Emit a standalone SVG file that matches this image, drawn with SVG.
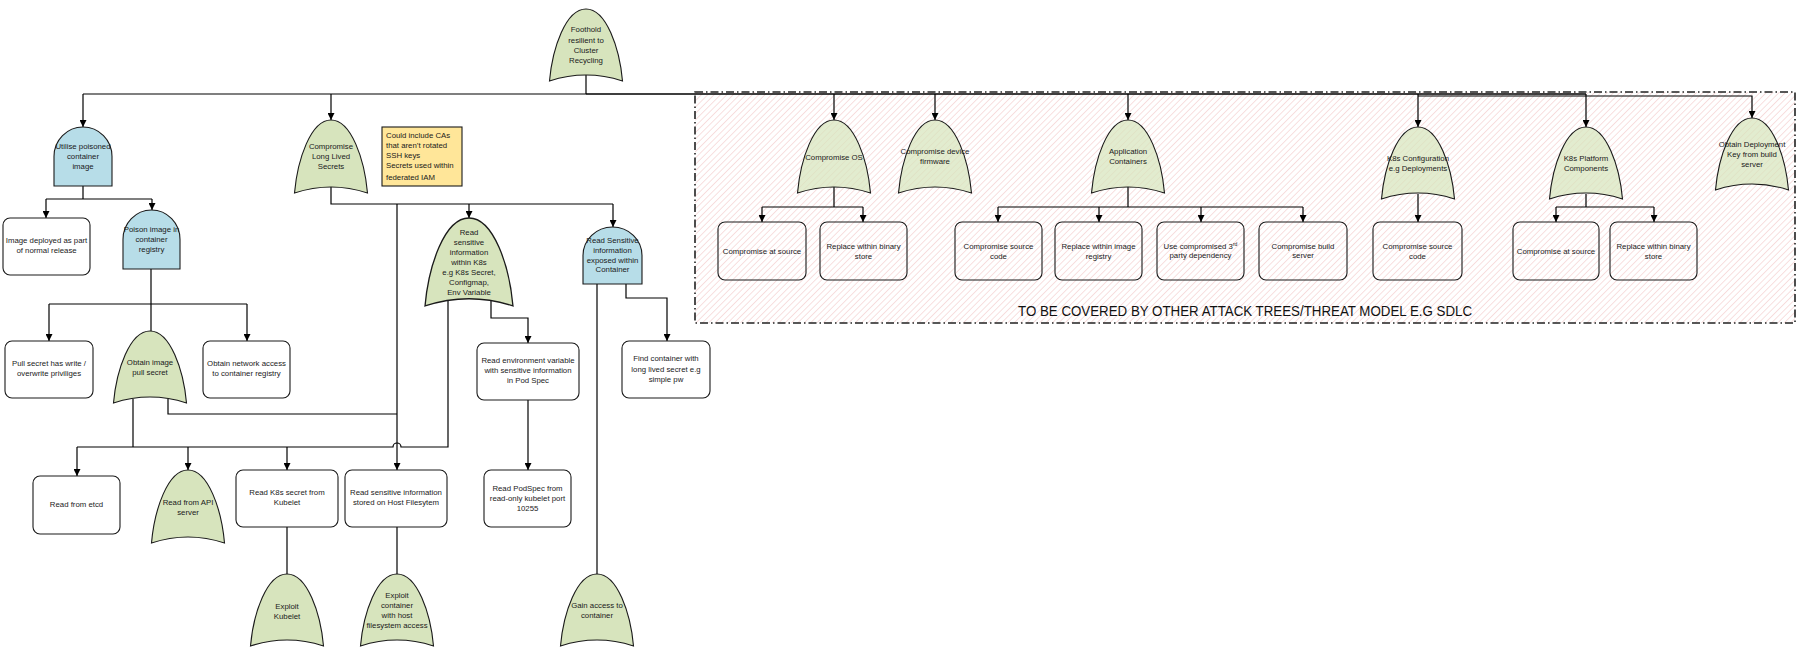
<svg xmlns="http://www.w3.org/2000/svg" width="1802" height="654" viewBox="0 0 1802 654">
<style>
text{font-family:"Liberation Sans",Arial,sans-serif;font-size:7.8px;fill:#1a1a1a;text-anchor:middle}
.note text,text.note{text-anchor:start}
.or{fill:#d7e4bd;stroke:#1a1a1a;stroke-width:1.1;vector-effect:non-scaling-stroke}
.hz{fill-opacity:0.72}
.and{fill:#b7dde8;stroke:#1a1a1a;stroke-width:1.1}
.box{fill:#fff;stroke:#1a1a1a;stroke-width:1.1}
.boxh{fill:none;stroke:#1a1a1a;stroke-width:1.1}
.c{fill:none;stroke:#000;stroke-width:1.2}
.a{marker-end:url(#arr)}
.big{font-size:14px;fill:#111}
</style>
<defs>
<marker id="arr" viewBox="0 0 8 8" refX="8" refY="4" markerWidth="7" markerHeight="7" markerUnits="userSpaceOnUse" orient="auto">
<path d="M0,0 L8,4 L0,8 Z" fill="#000"/>
</marker>
<pattern id="hatch" width="4.5" height="4.5" patternUnits="userSpaceOnUse" patternTransform="rotate(45)">
<line x1="0" y1="0" x2="0" y2="4.5" stroke="#f2c6c6" stroke-width="1.1"/>
</pattern>
<path id="orGate" d="M0,0 C20.4,0 33.6,40 36.5,73 Q0,61 -36.5,73 C-33.6,40 -20.4,0 0,0 Z"/>
<path id="andGate" d="M-29,58 V29 A29,29 0 0 1 29,29 V58 Z"/>
</defs>

<!-- excluded region -->
<g id="out-of-scope">
<rect x="695" y="92" width="1100" height="231" fill="#fff"/>
<rect x="695" y="92" width="1100" height="231" fill="url(#hatch)" stroke="#222" stroke-width="1.6" stroke-dasharray="8 3 1.5 3"/>
<text class="big" x="1245" y="316" textLength="454" lengthAdjust="spacingAndGlyphs">TO BE COVERED BY OTHER ATTACK TREES/THREAT MODEL E.G SDLC</text>
</g>

<g id="connectors">
<path class="c" d="M586,75 V94"/>
<path class="c" d="M83,94 H1586"/>
<path class="c" d="M586,94 H1586" stroke-width="2.4"/>
<path class="c a" d="M1418,96 H1752 V118"/>
<path class="c a" d="M83,94 V127"/>
<path class="c a" d="M331,94 V120"/>
<path class="c a" d="M834,94 V120"/>
<path class="c a" d="M935,94 V120"/>
<path class="c a" d="M1128,94 V120"/>
<path class="c a" d="M1418,94 V127"/>
<path class="c a" d="M1586,94 V127"/>
<!-- utilise -->
<path class="c" d="M83,186 V199 M46,199 H152"/>
<path class="c a" d="M46,199 V218"/>
<path class="c a" d="M152,199 V210"/>
<!-- poison -->
<path class="c" d="M151,269 V331"/>
<path class="c" d="M49,304 H247"/>
<path class="c a" d="M49,304 V341"/>
<path class="c a" d="M247,304 V341"/>
<!-- long lived -->
<path class="c" d="M331,187 V204 H613"/>
<path class="c a" d="M469,204 V218"/>
<path class="c a" d="M613,204 V227"/>
<path class="c a" d="M397,204 V470"/>
<!-- k8s within -->
<path class="c" d="M448,301 V447 H401 A4,4 0 0 0 393,447 H77"/>
<path class="c a" d="M491,301 V318 H528 V343"/>
<!-- obtain image pull secret -->
<path class="c" d="M133,399 V447"/>
<path class="c" d="M168,399 V414 H397"/>
<path class="c a" d="M77,447 V476"/>
<path class="c a" d="M188,447 V470"/>
<path class="c a" d="M287,447 V470"/>
<!-- env var -->
<path class="c a" d="M528,400 V470"/>
<path class="c" d="M287,527 V574"/>
<path class="c" d="M397,527 V574"/>
<!-- container -->
<path class="c" d="M597,284 V574"/>
<path class="c a" d="M626,284 V298 H667 V341"/>
<!-- right side -->
<path class="c" d="M834,187 V207 M762,207 H863"/>
<path class="c a" d="M762,207 V222"/>
<path class="c a" d="M863,207 V222"/>
<path class="c" d="M1128,187 V207 M998,207 H1303"/>
<path class="c a" d="M998,207 V222"/>
<path class="c a" d="M1099,207 V222"/>
<path class="c a" d="M1201,207 V222"/>
<path class="c a" d="M1303,207 V222"/>
<path class="c a" d="M1418,194 V222"/>
<path class="c" d="M1586,194 V207 M1556,207 H1654"/>
<path class="c a" d="M1556,207 V222"/>
<path class="c a" d="M1654,207 V222"/>
</g>

<g id="foothold"><use href="#orGate" class="or" transform="translate(586,9) scale(1,0.986)"/>
<text><tspan x="586" y="32">Foothold</tspan><tspan x="586" y="42.5">resilient to</tspan><tspan x="586" y="53">Cluster</tspan><tspan x="586" y="63">Recycling</tspan></text></g>

<g id="utilise-poisoned-image"><use href="#andGate" class="and" transform="translate(83,127) scale(1,1.017)"/>
<text><tspan x="83" y="149">Utilise poisoned</tspan><tspan x="83" y="159">container</tspan><tspan x="83" y="169">image</tspan></text></g>

<g id="compromise-long-lived-secrets"><use href="#orGate" class="or" transform="translate(331,120)"/>
<text><tspan x="331" y="149">Compromise</tspan><tspan x="331" y="159">Long Lived</tspan><tspan x="331" y="169">Secrets</tspan></text></g>

<g id="note" class="note"><rect x="382" y="127" width="80" height="59" fill="#ffe699" stroke="#1a1a1a" stroke-width="1.1"/>
<text><tspan x="386" y="138">Could include CAs</tspan><tspan x="386" y="148">that aren’t rotated</tspan><tspan x="386" y="158">SSH keys</tspan><tspan x="386" y="168">Secrets used within</tspan><tspan x="386" y="180">federated IAM</tspan></text></g>

<g id="image-deployed"><rect class="box" x="3" y="218" width="87" height="57" rx="7"/>
<text><tspan x="46.5" y="243">Image deployed as part</tspan><tspan x="46.5" y="253">of normal release</tspan></text></g>

<g id="poison-image"><use href="#andGate" class="and" transform="translate(151.5,210) scale(0.983,1.017)"/>
<text><tspan x="151.5" y="232">Poison image in</tspan><tspan x="151.5" y="242">container</tspan><tspan x="151.5" y="252">registry</tspan></text></g>

<g id="pull-secret-write"><rect class="box" x="5" y="341" width="88" height="57" rx="7"/>
<text><tspan x="49" y="366">Pull secret has write /</tspan><tspan x="49" y="376">overwrite priviliges</tspan></text></g>

<g id="obtain-pull-secret"><use href="#orGate" class="or" transform="translate(150,331) scale(1,0.986)"/>
<text><tspan x="150" y="365">Obtain image</tspan><tspan x="150" y="375">pull secret</tspan></text></g>

<g id="obtain-network-access"><rect class="box" x="203" y="341" width="87" height="57" rx="7"/>
<text><tspan x="246.5" y="366">Obtain network access</tspan><tspan x="246.5" y="376">to container registry</tspan></text></g>

<g id="read-k8s-info"><use href="#orGate" class="or" transform="translate(469,218) scale(1.205)"/>
<text><tspan x="469" y="235">Read</tspan><tspan x="469" y="245">sensitive</tspan><tspan x="469" y="255">information</tspan><tspan x="469" y="265">within K8s</tspan><tspan x="469" y="275">e.g K8s Secret,</tspan><tspan x="469" y="285">Configmap,</tspan><tspan x="469" y="295">Env Variable</tspan></text></g>

<g id="read-container-info"><use href="#andGate" class="and" transform="translate(612.5,227) scale(1.017,0.983)"/>
<text><tspan x="612.5" y="243">Read Sensitive</tspan><tspan x="612.5" y="253">information</tspan><tspan x="612.5" y="263">exposed within</tspan><tspan x="612.5" y="272">Container</tspan></text></g>

<g id="read-env-var"><rect class="box" x="477" y="343" width="102" height="57" rx="7"/>
<text><tspan x="528" y="363">Read environment variable</tspan><tspan x="528" y="373">with sensitive information</tspan><tspan x="528" y="383">in Pod Spec</tspan></text></g>

<g id="find-container"><rect class="box" x="622" y="341" width="88" height="57" rx="7"/>
<text><tspan x="666" y="361">Find container with</tspan><tspan x="666" y="371.5">long lived secret e.g</tspan><tspan x="666" y="382">simple pw</tspan></text></g>

<g id="read-etcd"><rect class="box" x="33" y="476" width="87" height="58" rx="7"/>
<text x="76.5" y="507">Read from etcd</text></g>

<g id="read-api-server"><use href="#orGate" class="or" transform="translate(188,470)"/>
<text><tspan x="188" y="505">Read from API</tspan><tspan x="188" y="515">server</tspan></text></g>

<g id="read-kubelet-secret"><rect class="box" x="236" y="470" width="102" height="57" rx="7"/>
<text><tspan x="287" y="495">Read K8s secret from</tspan><tspan x="287" y="505">Kubelet</tspan></text></g>

<g id="read-host-fs"><rect class="box" x="345" y="470" width="102" height="57" rx="7"/>
<text><tspan x="396" y="495">Read sensitive information</tspan><tspan x="396" y="505">stored on Host Filesytem</tspan></text></g>

<g id="read-podspec"><rect class="box" x="484" y="470" width="87" height="57" rx="7"/>
<text><tspan x="527.5" y="491">Read PodSpec from</tspan><tspan x="527.5" y="501">read-only kubelet port</tspan><tspan x="527.5" y="511">10255</tspan></text></g>

<g id="exploit-kubelet"><use href="#orGate" class="or" transform="translate(287,574) scale(1,0.986)"/>
<text><tspan x="287" y="609">Exploit</tspan><tspan x="287" y="619">Kubelet</tspan></text></g>

<g id="exploit-container-host"><use href="#orGate" class="or" transform="translate(397,574) scale(1,0.986)"/>
<text><tspan x="397" y="598">Exploit</tspan><tspan x="397" y="608">container</tspan><tspan x="397" y="618">with host</tspan><tspan x="397" y="628">filesystem access</tspan></text></g>

<g id="gain-container-access"><use href="#orGate" class="or" transform="translate(597,574) scale(1,0.986)"/>
<text><tspan x="597" y="608">Gain access to</tspan><tspan x="597" y="618">container</tspan></text></g>

<g id="compromise-os"><use href="#orGate" class="or hz" transform="translate(834,120)"/>
<text x="834" y="160">Compromise OS</text></g>

<g id="compromise-firmware"><use href="#orGate" class="or hz" transform="translate(935,120)"/>
<text><tspan x="935" y="154">Compromise device</tspan><tspan x="935" y="164">firmware</tspan></text></g>

<g id="application-containers"><use href="#orGate" class="or hz" transform="translate(1128,120)"/>
<text><tspan x="1128" y="154">Application</tspan><tspan x="1128" y="164">Containers</tspan></text></g>

<g id="k8s-configuration"><use href="#orGate" class="or hz" transform="translate(1418,127) scale(1,0.986)"/>
<text><tspan x="1418" y="161">K8s Configuration</tspan><tspan x="1418" y="171">e.g Deployments</tspan></text></g>

<g id="k8s-platform"><use href="#orGate" class="or hz" transform="translate(1586,127) scale(1,0.986)"/>
<text><tspan x="1586" y="161">K8s Platform</tspan><tspan x="1586" y="171">Components</tspan></text></g>

<g id="obtain-deployment-key"><use href="#orGate" class="or hz" transform="translate(1752,118) scale(1,0.986)"/>
<text><tspan x="1752" y="147">Obtain Deployment</tspan><tspan x="1752" y="157">Key from build</tspan><tspan x="1752" y="167">server</tspan></text></g>

<g id="os-compromise-source"><rect class="boxh" x="718" y="222" width="88" height="58" rx="7"/>
<text x="762" y="254">Compromise at source</text></g>

<g id="os-replace-binary"><rect class="boxh" x="820" y="222" width="87" height="58" rx="7"/>
<text><tspan x="863.5" y="249">Replace within binary</tspan><tspan x="863.5" y="259">store</tspan></text></g>

<g id="app-compromise-source"><rect class="boxh" x="955" y="222" width="87" height="58" rx="7"/>
<text><tspan x="998.5" y="249">Compromise source</tspan><tspan x="998.5" y="259">code</tspan></text></g>

<g id="app-replace-registry"><rect class="boxh" x="1055" y="222" width="87" height="58" rx="7"/>
<text><tspan x="1098.5" y="249">Replace within image</tspan><tspan x="1098.5" y="259">registry</tspan></text></g>

<g id="app-third-party"><rect class="boxh" x="1157" y="222" width="87" height="58" rx="7"/>
<text><tspan x="1200.5" y="249">Use compromised 3<tspan font-size="5" dy="-3">rd</tspan></tspan><tspan x="1200.5" y="258">party dependency</tspan></text></g>

<g id="app-build-server"><rect class="boxh" x="1259" y="222" width="88" height="58" rx="7"/>
<text><tspan x="1303" y="249">Compromise build</tspan><tspan x="1303" y="258">server</tspan></text></g>

<g id="cfg-compromise-source"><rect class="boxh" x="1373" y="222" width="89" height="58" rx="7"/>
<text><tspan x="1417.5" y="249">Compromise source</tspan><tspan x="1417.5" y="259">code</tspan></text></g>

<g id="plat-compromise-source"><rect class="boxh" x="1513" y="222" width="86" height="58" rx="7"/>
<text x="1556" y="254">Compromise at source</text></g>

<g id="plat-replace-binary"><rect class="boxh" x="1610" y="222" width="87" height="58" rx="7"/>
<text><tspan x="1653.5" y="249">Replace within binary</tspan><tspan x="1653.5" y="259">store</tspan></text></g>
</svg>
